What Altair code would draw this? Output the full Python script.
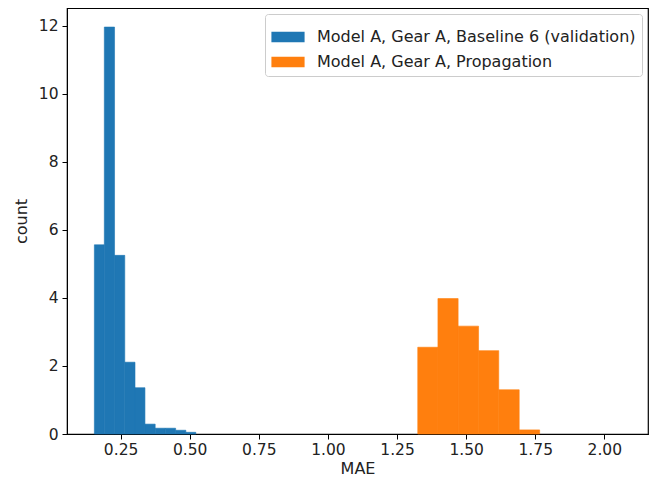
import altair as alt
import pandas as pd

# Blue histogram: Baseline 6 (validation)
blue_edges = [0.155, 0.191, 0.228, 0.265, 0.302, 0.338, 0.375, 0.412, 0.449, 0.486, 0.522]
blue_heights = [5.56, 11.96, 5.25, 2.11, 1.36, 0.29, 0.17, 0.17, 0.11, 0.05]

# Orange histogram: Propagation
orange_edges = [1.325, 1.398, 1.471, 1.545, 1.618, 1.692, 1.766]
orange_heights = [2.55, 3.98, 3.17, 2.45, 1.30, 0.12]

series_names = ["Model A, Gear A, Baseline 6 (validation)", "Model A, Gear A, Propagation"]
series_colors = ["#1f77b4", "#ff7f0e"]
x_ticks = [0.25, 0.5, 0.75, 1.0, 1.25, 1.5, 1.75, 2.0]
y_ticks = [0, 2, 4, 6, 8, 10, 12]

rows = []
for i, h in enumerate(blue_heights):
    rows.append({"x0": blue_edges[i], "x1": blue_edges[i + 1], "h": h, "series": series_names[0]})
for i, h in enumerate(orange_heights):
    rows.append({"x0": orange_edges[i], "x1": orange_edges[i + 1], "h": h, "series": series_names[1]})
df = pd.DataFrame(rows)

FONT = "DejaVu Sans"

chart = alt.Chart(df).mark_rect(strokeWidth=0.6).encode(
    x=alt.X("x0:Q", scale=alt.Scale(domain=[0.056, 2.158], nice=False, zero=False),
            axis=alt.Axis(values=x_ticks, format=".2f", title="MAE", grid=False,
                          labelPadding=3, titlePadding=3)),
    x2="x1:Q",
    y=alt.Y("h:Q", scale=alt.Scale(domain=[0, 12.52], nice=False),
            axis=alt.Axis(values=y_ticks, title="count", grid=False,
                          labelPadding=4, titlePadding=9)),
    y2=alt.datum(0),
    color=alt.Color("series:N",
                    scale=alt.Scale(domain=series_names, range=series_colors),
                    legend=alt.Legend(title=None, orient="top-right", offset=6,
                                      symbolType="M-1,-0.32H1V0.32H-1Z",
                                      symbolSize=1100, symbolStrokeWidth=0,
                                      labelFontSize=16, labelFont=FONT, labelColor="#222",
                                      strokeColor="#cccccc", cornerRadius=3, padding=6,
                                      fillColor="white", rowPadding=0, labelOffset=12,
                                      labelLimit=450)),
    stroke=alt.Stroke("series:N",
                      scale=alt.Scale(domain=series_names, range=series_colors),
                      legend=None),
).properties(
    width=581, height=426,
    autosize=alt.AutoSizeParams(type="none"),
    padding={"left": 59, "top": 0, "right": 1, "bottom": 46},
).configure_view(
    stroke="black", strokeWidth=1.2
).configure_axis(
    labelFont=FONT, titleFont=FONT, labelFontSize=15.5, titleFontSize=16,
    titleFontWeight="normal", labelColor="#222", titleColor="#222",
    domainColor="black", tickColor="black", tickSize=5,
)

chart.save("out.html", embed_options={"renderer": "svg", "actions": False})
